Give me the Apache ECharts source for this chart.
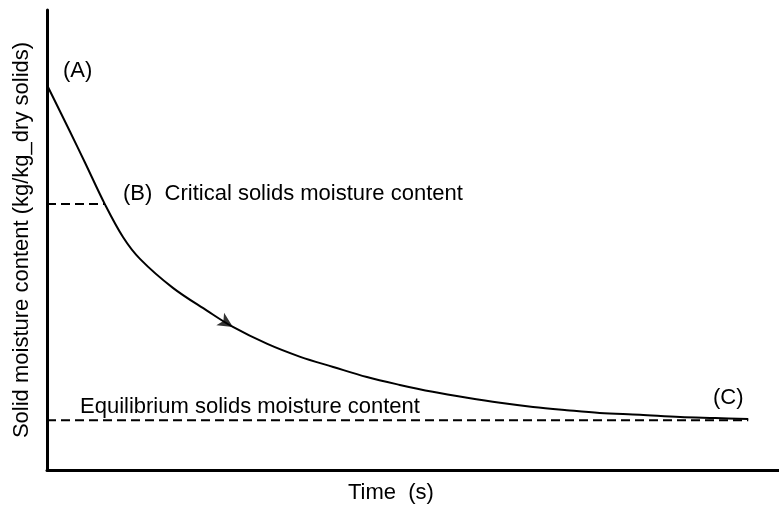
<!DOCTYPE html>
<html>
<head>
<meta charset="utf-8">
<script src="https://cdn.jsdelivr.net/npm/echarts@6/dist/echarts.min.js"></script>
<style>
  html, body { margin: 0; padding: 0; background: #fff; }
  #chart { width: 779px; height: 506px; }
</style>
</head>
<body>
<div id="chart"></div>
<script>
// drying curve, arbitrary units (time 0..100, moisture 0..100)
var timeVals = [0, 3.1, 5.2, 7.9, 10.4, 12.7, 17.2, 21.9, 25.4, 30.1, 34.6, 39.1, 43.7, 48.2, 52.7, 57.4, 61.9, 66.4, 71.0, 75.5, 81.0, 86.5, 91.3, 95.8];
var moistVals = [83.7, 73.7, 66.8, 57.8, 50.6, 45.9, 39.6, 34.6, 31.1, 27.4, 24.6, 22.4, 20.2, 18.5, 17.0, 15.7, 14.6, 13.7, 13.0, 12.4, 12.0, 11.5, 11.3, 11.1];
var criticalLevel = 57.8, criticalTime = 7.9;
var equilibriumLevel = 10.8, equilibriumEnd = 95.8;
var arrowAt = [25.4, 31.1];

var chartDom = document.getElementById('chart');
var myChart = echarts.init(chartDom);
var font = 'Liberation Sans, Arial, sans-serif';
var fs = 22;

var curve = timeVals.map(function (t, i) { return [t, moistVals[i]]; });

function label(x, y, text) {
  return {
    type: 'text', x: x, y: y,
    style: { text: text, fontFamily: font, fontSize: fs, fill: '#000', align: 'left', verticalAlign: 'middle' }
  };
}

var option = {
  animation: false,
  backgroundColor: '#fff',
  grid: { left: 47, right: 0, top: 10, bottom: 36 },
  xAxis: {
    type: 'value', min: 0, max: 100,
    axisLine: { lineStyle: { color: '#000', width: 3 } },
    axisTick: { show: false }, axisLabel: { show: false }, splitLine: { show: false }
  },
  yAxis: {
    type: 'value', min: 0, max: 100,
    name: 'Solid moisture content (kg/kg_dry solids)',
    nameLocation: 'middle', nameGap: 14,
    nameTextStyle: { fontFamily: font, fontSize: fs, color: '#000' },
    axisLine: { show: true, lineStyle: { color: '#000', width: 3 } },
    axisTick: { show: false }, axisLabel: { show: false }, splitLine: { show: false }
  },
  graphic: [
    label(63, 71, '(A)'),
    label(123, 194, '(B)  Critical solids moisture content'),
    label(80, 407, 'Equilibrium solids moisture content'),
    label(713, 398, '(C)'),
    label(348, 493, 'Time  (s)')
  ],
  series: [
    {
      type: 'line', data: curve, smooth: 0.35, symbol: 'none',
      lineStyle: { color: '#000', width: 2 }
    },
    {
      type: 'line', data: [[0, criticalLevel], [criticalTime, criticalLevel]], symbol: 'none',
      lineStyle: { color: '#000', width: 2, type: [9, 5] }
    },
    {
      type: 'line', data: [[0, equilibriumLevel], [equilibriumEnd, equilibriumLevel]], symbol: 'none',
      lineStyle: { color: '#000', width: 2, type: [9, 5] }
    },
    {
      type: 'scatter', data: [arrowAt], symbol: 'arrow', symbolSize: [11, 15],
      symbolRotate: -122, itemStyle: { color: '#000' }
    }
  ]
};
option && myChart.setOption(option);
</script>
</body>
</html>
